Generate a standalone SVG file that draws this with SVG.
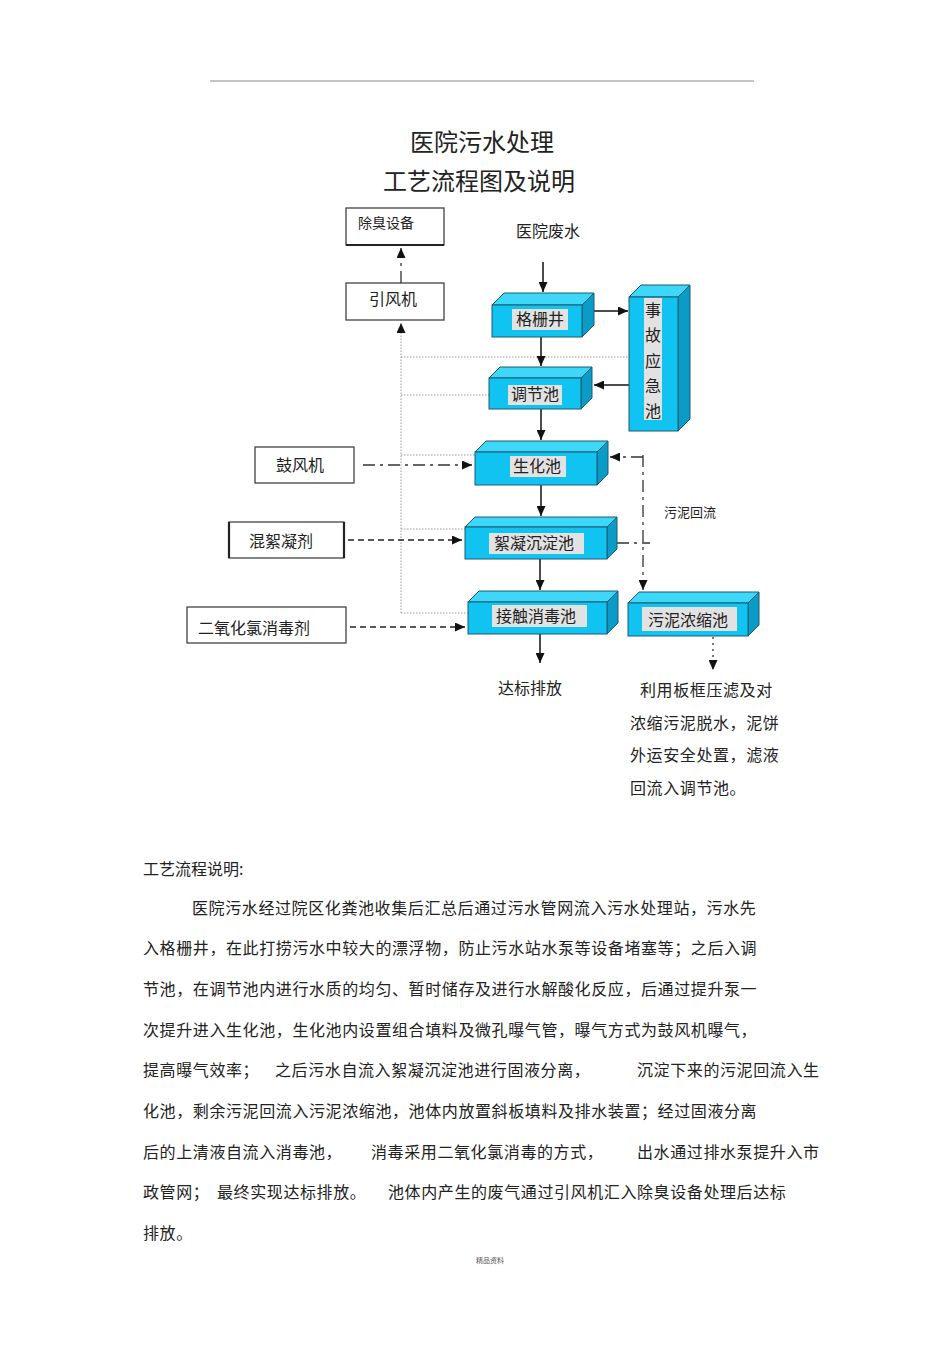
<svg xmlns="http://www.w3.org/2000/svg" width="950" height="1345" viewBox="0 0 950 1345">
<defs>
<marker id="ah" markerUnits="userSpaceOnUse" markerWidth="11" markerHeight="9" refX="10" refY="4.5" orient="auto">
<path d="M0,0 L10,4.5 L0,9 z" fill="#111"/>
</marker>
<style>
text{font-family:"Noto Sans CJK SC","Noto Sans CJK JP",sans-serif;fill:#222}
.t24{font-size:24px}
.t16{font-size:16px}
.t14{font-size:14px}
.t13{font-size:13px}
.p{font-size:16px;letter-spacing:0.6px}
.plain{fill:#fff;stroke:#333;stroke-width:1.2}
.front{fill:#10C3F0;stroke:#1F5A72;stroke-width:1}
.top{fill:#3DD7F8;stroke:#1F5A72;stroke-width:1}
.side{fill:#0A9CC6;stroke:#1F5A72;stroke-width:1}
.lab{fill:#E2E2E2}
.flow{stroke:#111;stroke-width:1.5;fill:none}
.dot{stroke:#999;stroke-width:1;stroke-dasharray:1.5 1.5;fill:none}
.dash{stroke:#222;stroke-width:1.5;stroke-dasharray:6 4;fill:none}
.dashdot{stroke:#333;stroke-width:1.3;stroke-dasharray:12 5 3 5;fill:none}
</style>
</defs>
<rect width="950" height="1345" fill="#fff"/>
<line x1="210" y1="81" x2="754" y2="81" stroke="#888" stroke-width="1"/>
<text class="t24" x="482" y="151" text-anchor="middle">医院污水处理</text>
<text class="t24" x="479" y="190" text-anchor="middle">工艺流程图及说明</text>

<g id="connectors">
<line class="dot" x1="401" y1="613" x2="401" y2="323" marker-end="url(#ah)"/>
<line class="dashdot" x1="401" y1="283" x2="401" y2="248" marker-end="url(#ah)"/>
<line class="dot" x1="401" y1="357" x2="629" y2="357"/>
<line class="dot" x1="401" y1="395" x2="489" y2="395"/>
<line class="dot" x1="401" y1="455" x2="475" y2="455"/>
<line class="dot" x1="401" y1="529" x2="465" y2="529"/>
<line class="dot" x1="401" y1="613" x2="468" y2="613"/>
<line class="flow" x1="543" y1="262" x2="543" y2="292" marker-end="url(#ah)"/>
<line class="flow" x1="541" y1="337" x2="541" y2="366" marker-end="url(#ah)"/>
<line class="flow" x1="541" y1="409" x2="541" y2="440" marker-end="url(#ah)"/>
<line class="flow" x1="541" y1="485" x2="541" y2="516" marker-end="url(#ah)"/>
<line class="flow" x1="540" y1="559" x2="540" y2="590" marker-end="url(#ah)"/>
<line class="flow" x1="540" y1="634" x2="540" y2="663" marker-end="url(#ah)"/>
<line class="flow" x1="594" y1="311" x2="628" y2="311" marker-end="url(#ah)"/>
<line class="flow" x1="629" y1="385" x2="594" y2="385" marker-end="url(#ah)"/>
<line class="dashdot" x1="363" y1="465" x2="472" y2="465" marker-end="url(#ah)"/>
<line class="dash" x1="348" y1="540" x2="462" y2="540" marker-end="url(#ah)"/>
<line class="dash" x1="350" y1="627" x2="465" y2="627" marker-end="url(#ah)"/>
<line class="dashdot" x1="617" y1="543" x2="650" y2="543"/>
<line class="dashdot" x1="643" y1="455" x2="643" y2="590" marker-end="url(#ah)"/>
<line class="dashdot" x1="643" y1="457" x2="610" y2="457" marker-end="url(#ah)"/>
<line class="dashdot" x1="713" y1="637" x2="713" y2="670" style="stroke-dasharray:2 4" marker-end="url(#ah)"/>
</g>

<g id="n-chuchou">
<rect class="plain" x="346" y="208" width="98" height="37"/>
<line x1="346" y1="245" x2="444" y2="245" stroke="#222" stroke-width="2"/>
<text class="t14" x="358" y="228">除臭设备</text>
</g>
<g id="n-yinfengji">
<rect class="plain" x="346" y="283" width="98" height="37"/>
<text class="t16" x="393" y="305" text-anchor="middle">引风机</text>
</g>
<g id="n-feishui">
<text class="t16" x="548" y="237" text-anchor="middle">医院废水</text>
</g>

<g id="n-geshanjing">
<polygon class="top" points="492,305 504,293 594,293 582,305"/>
<polygon class="side" points="582,305 594,293 594,325 582,337"/>
<rect class="front" x="492" y="305" width="90" height="32"/>
<rect class="lab" x="512" y="309" width="56" height="21"/>
<text class="t16" x="540" y="325" text-anchor="middle">格栅井</text>
</g>
<g id="n-tiaojiechi">
<polygon class="top" points="489,378 500,367 592,367 581,378"/>
<polygon class="side" points="581,378 592,367 592,398 581,409"/>
<rect class="front" x="489" y="378" width="92" height="31"/>
<rect class="lab" x="508" y="385" width="54" height="20"/>
<text class="t16" x="535" y="400" text-anchor="middle">调节池</text>
</g>
<g id="n-shigu">
<polygon class="top" points="629,297 641,285 690,285 678,297"/>
<polygon class="side" points="678,297 690,285 690,419 678,431"/>
<rect class="front" x="629" y="297" width="49" height="134"/>
<rect class="lab" x="644" y="298" width="18" height="122"/>
<text class="t16" x="653" y="316" text-anchor="middle">事</text>
<text class="t16" x="653" y="341" text-anchor="middle">故</text>
<text class="t16" x="653" y="367" text-anchor="middle">应</text>
<text class="t16" x="653" y="392" text-anchor="middle">急</text>
<text class="t16" x="653" y="417" text-anchor="middle">池</text>
</g>
<g id="n-shenghuachi">
<polygon class="top" points="475,452 486,441 608,441 597,452"/>
<polygon class="side" points="597,452 608,441 608,474 597,485"/>
<rect class="front" x="475" y="452" width="122" height="33"/>
<rect class="lab" x="510" y="456" width="56" height="21"/>
<text class="t16" x="537" y="472" text-anchor="middle">生化池</text>
</g>
<g id="n-xuning">
<polygon class="top" points="465,527 475,517 617,517 607,527"/>
<polygon class="side" points="607,527 617,517 617,549 607,559"/>
<rect class="front" x="465" y="527" width="142" height="32"/>
<rect class="lab" x="489" y="533" width="95" height="21"/>
<text class="t16" x="534" y="549" text-anchor="middle">絮凝沉淀池</text>
</g>
<g id="n-jiechu">
<polygon class="top" points="468,602 479,591 618,591 607,602"/>
<polygon class="side" points="607,602 618,591 618,623 607,634"/>
<rect class="front" x="468" y="602" width="139" height="32"/>
<rect class="lab" x="492" y="605" width="95" height="22"/>
<text class="t16" x="536" y="622" text-anchor="middle">接触消毒池</text>
</g>
<g id="n-wuni">
<polygon class="top" points="628,603 639,592 759,592 748,603"/>
<polygon class="side" points="748,603 759,592 759,625 748,636"/>
<rect class="front" x="628" y="603" width="120" height="33"/>
<rect class="lab" x="642" y="607" width="95" height="24"/>
<text class="t16" x="688" y="626" text-anchor="middle">污泥浓缩池</text>
</g>

<g id="n-gufengji">
<rect class="plain" x="255" y="447" width="99" height="36"/>
<text class="t16" x="300" y="471" text-anchor="middle">鼓风机</text>
</g>
<g id="n-hunxu">
<rect class="plain" x="229" y="522" width="115" height="36"/>
<line x1="229" y1="522" x2="229" y2="558" stroke="#222" stroke-width="2.2"/>
<line x1="344" y1="522" x2="344" y2="558" stroke="#222" stroke-width="2.2"/>
<text class="t16" x="281" y="547" text-anchor="middle">混絮凝剂</text>
</g>
<g id="n-eryanghua">
<rect class="plain" x="187" y="607" width="159" height="36"/>
<text class="t16" x="198" y="634">二氧化氯消毒剂</text>
</g>

<g id="labels">
<text class="t13" x="664" y="517">污泥回流</text>
<text class="t16" x="530" y="694" text-anchor="middle">达标排放</text>
<text class="p" x="640" y="696">利用板框压滤及对</text>
<text class="p" x="630" y="729">浓缩污泥脱水，泥饼</text>
<text class="p" x="630" y="761">外运安全处置，滤液</text>
<text class="p" x="630" y="794">回流入调节池。</text>
</g>

<g id="description">
<text class="t16" x="143" y="875">工艺流程说明:</text>
<text class="p" x="192" y="914">医院污水经过院区化粪池收集后汇总后通过污水管网流入污水处理站，污水先</text>
<text class="p" x="143" y="954">入格栅井，在此打捞污水中较大的漂浮物，防止污水站水泵等设备堵塞等；之后入调</text>
<text class="p" x="143" y="995">节池，在调节池内进行水质的均匀、暂时储存及进行水解酸化反应，后通过提升泵一</text>
<text class="p" x="143" y="1036">次提升进入生化池，生化池内设置组合填料及微孔曝气管，曝气方式为鼓风机曝气，</text>
<text class="p" x="143" y="1076">提高曝气效率；</text>
<text class="p" x="275" y="1076">之后污水自流入絮凝沉淀池进行固液分离，</text>
<text class="p" x="637" y="1076">沉淀下来的污泥回流入生</text>
<text class="p" x="143" y="1117">化池，剩余污泥回流入污泥浓缩池，池体内放置斜板填料及排水装置；经过固液分离</text>
<text class="p" x="143" y="1158">后的上清液自流入消毒池，</text>
<text class="p" x="371" y="1158">消毒采用二氧化氯消毒的方式，</text>
<text class="p" x="637" y="1158">出水通过排水泵提升入市</text>
<text class="p" x="143" y="1198">政管网；</text>
<text class="p" x="217" y="1198">最终实现达标排放。</text>
<text class="p" x="388" y="1198">池体内产生的废气通过引风机汇入除臭设备处理后达标</text>
<text class="p" x="143" y="1239">排放。</text>
<text x="490" y="1263" text-anchor="middle" style="font-size:7px;fill:#555">精品资料</text>
</g>
</svg>
